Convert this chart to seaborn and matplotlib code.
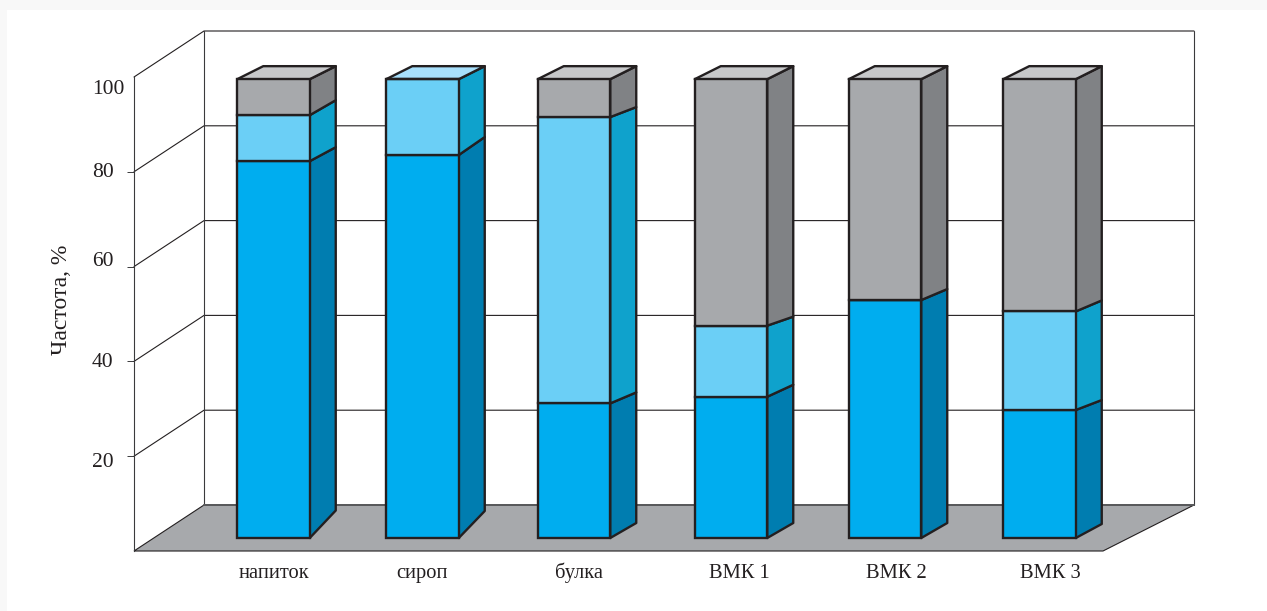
import matplotlib
matplotlib.use("Agg")
import matplotlib.pyplot as plt
from matplotlib.patches import Polygon, Rectangle
from matplotlib.transforms import Affine2D
import numpy as np
import pandas as pd
import seaborn as sns

# Survey frequencies, % (read along the bars' own depth plane)
categories = ["напиток", "сироп", "булка", "ВМК 1", "ВМК 2", "ВМК 3"]
blue_share = [79.5, 80.8, 28.4, 29.8, 50.2, 27.0]
light_share = [9.7, 16.0, 60.4, 15.0, 0.0, 20.8]
gray_share = [7.6, 0.0, 8.0, 52.0, 46.6, 49.0]

y_ticks = [20, 40, 60, 80, 100]
y_label = "Частота, %"

# Layout of the oblique projection, in pixels
FIG_W, FIG_H = 1267, 611
PX_PER_UNIT = 4.74
ZERO_Y = 551
FRONT_X, BACK_L, BACK_R, FLOOR_R = 134, 204, 1194, 1103
WALL_RISE = 46 / PX_PER_UNIT
BAR_BASE = 13 / PX_PER_UNIT
bar_centers = [273.5, 422.5, 574.0, 731.0, 885.0, 1039.5]
label_centers = [274, 422, 579, 739, 896, 1050]
BAR_W = 72.5
SIDE_W = 26
TOP_LEAN = 26
# rise of the side face at: base, blue top, light top, stack top
side_rise = [
    [27.5, 14, 15, 13],
    [27.0, 18, 13, 13],
    [15.0, 11, 10, 13],
    [15.0, 12, 9, 13],
    [15.0, 11, 11, 13],
    [14.0, 10, 11, 13],
]
tick_label_dy = [-4, 1, 8, 2, -10.5]  # 20 ... 100

# Per-segment colours: front, side, top
BLUE = ("#00ADEF", "#007DB0", "#00ADEF")
LIGHT = ("#6BCFF6", "#0FA2CC", "#A8E0FC")
GRAY = ("#A7A9AC", "#808285", "#C7C8CA")
INK = "#231F20"
SERIES = [("blue", blue_share, BLUE), ("light", light_share, LIGHT), ("gray", gray_share, GRAY)]

sns.set_theme(style="white")
plt.rcParams["font.family"] = ["Liberation Serif", "DejaVu Serif"]
plt.rcParams["axes.unicode_minus"] = False

fig = plt.figure(figsize=(FIG_W / 100, FIG_H / 100), dpi=100, facecolor="#F8F8F8")
fig.add_artist(Rectangle((7 / FIG_W, 0), 1, (FIG_H - 10) / FIG_H, transform=fig.transFigure,
                         facecolor="white", edgecolor="none", zorder=-5))
ax = fig.add_axes([0, 0, 1, 1])
ax.patch.set_visible(False)

# Floor, back wall and side-wall lines
floor = [(FRONT_X, 0), (BACK_L, WALL_RISE), (BACK_R, WALL_RISE), (FLOOR_R, 0)]
ax.add_patch(Polygon(floor, closed=True, facecolor="#A7A9AC", edgecolor=INK, lw=0.8, zorder=1))
ax.plot([BACK_L, BACK_R], [WALL_RISE, WALL_RISE], color="#58595B", lw=1.4, zorder=1.1)
for level in y_ticks:
    ax.plot([FRONT_X, BACK_L, BACK_R], [level, level + WALL_RISE, level + WALL_RISE],
            color=INK, lw=0.8, zorder=0.8)
for x in (BACK_L, BACK_R):
    ax.plot([x, x], [WALL_RISE, 100 + WALL_RISE], color="#3A3A3C", lw=0.8, zorder=0.8)

# Front faces of the stacked columns
cum = np.zeros(len(categories))
for name, share, colors in SERIES:
    frame = pd.DataFrame({"x": bar_centers, "value": share})
    sns.barplot(data=frame, x="x", y="value", native_scale=True, orient="x", ax=ax,
                color=colors[0], saturation=1, errorbar=None,
                width=BAR_W / (bar_centers[1] - bar_centers[0]),
                bottom=cum + BAR_BASE, edgecolor=INK, linewidth=1.7, zorder=3)
    cum = cum + np.array(share)

# Side and top faces, built from the same stacked values
for i, xc in enumerate(bar_centers):
    right = xc + BAR_W / 2
    left = xc - BAR_W / 2
    level = BAR_BASE
    rise_prev = side_rise[i][0] / PX_PER_UNIT
    last = None
    for k, (name, share, colors) in enumerate(SERIES):
        v = share[i]
        rise = side_rise[i][k + 1] / PX_PER_UNIT
        if v <= 0:
            continue
        pts = [(right, level), (right + SIDE_W, level + rise_prev),
               (right + SIDE_W, level + v + rise), (right, level + v)]
        ax.add_patch(Polygon(pts, closed=True, facecolor=colors[1], edgecolor=INK,
                             lw=1.7, joinstyle="round", zorder=2.9))
        level += v
        rise_prev = rise
        last = colors
    rise = side_rise[i][3] / PX_PER_UNIT
    pts = [(left, level), (left + TOP_LEAN, level + rise),
           (right + SIDE_W, level + rise), (right, level)]
    ax.add_patch(Polygon(pts, closed=True, facecolor=last[2], edgecolor=INK,
                         lw=1.7, joinstyle="round", zorder=2.9))

ax.set_xlim(0, FIG_W)
ax.set_ylim((ZERO_Y - FIG_H) / PX_PER_UNIT, ZERO_Y / PX_PER_UNIT)

# Axes furniture
for side in ("top", "right"):
    ax.spines[side].set_visible(False)
ax.spines["bottom"].set_position(("data", 0))
ax.spines["bottom"].set_visible(False)
ax.spines["left"].set_position(("data", FRONT_X))
ax.spines["left"].set_bounds(0, 100)
ax.spines["left"].set_color("#3A3A3C")
ax.spines["left"].set_linewidth(0.8)
ax.spines["left"].set_zorder(2)

ax.set_xticks(label_centers, categories)
ax.tick_params(axis="x", length=0, pad=19.4, labelsize=14.8, labelcolor=INK)
for lab in ax.get_xticklabels():
    lab.set_verticalalignment("baseline")
ax.set_xlabel("")
ax.set_yticks(y_ticks, [str(t) for t in y_ticks])
ax.tick_params(axis="y", left=True, length=5, width=0.7, color="#3A3A3C", pad=0,
               labelsize=15.5, labelcolor=INK)
ax.yaxis.get_major_ticks()[-1].tick1line.set_visible(False)
for lab, dy in zip(ax.get_yticklabels(), tick_label_dy):
    lab.set_horizontalalignment("left")
    lab.set_transform(lab.get_transform() + Affine2D().translate(-35, dy))

ax.set_ylabel(y_label, fontsize=17, color=INK)
ax.yaxis.set_label_coords(72 / FIG_W, 1 - 300 / FIG_H)

fig.savefig("out.png", dpi=100)
